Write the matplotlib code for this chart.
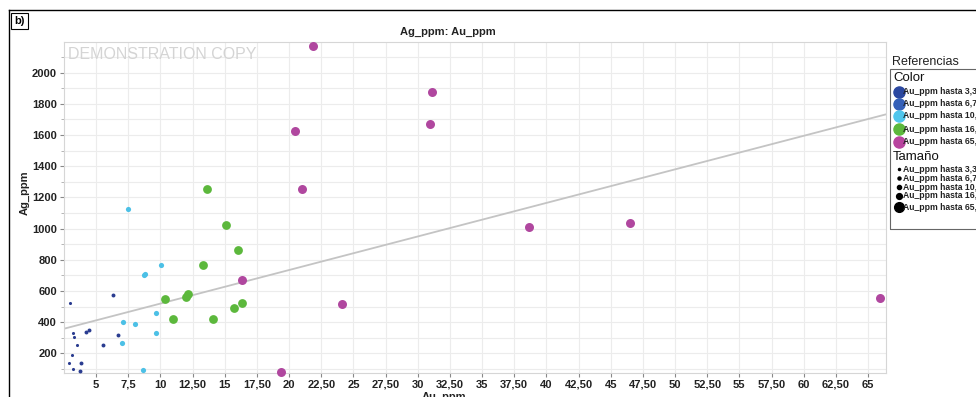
import numpy as np
import matplotlib
matplotlib.use("Agg")
import matplotlib.pyplot as plt
from matplotlib.lines import Line2D
from matplotlib.patches import Rectangle
from matplotlib.ticker import MultipleLocator, FixedLocator

plt.rcParams['font.family'] = ['Liberation Sans', 'DejaVu Sans']

# Au_ppm (x) and Ag_ppm (y) per class
au_c1 = [3.0, 3.21, 3.29, 3.15, 2.87, 3.21, 3.54]
ag_c1 = [525, 332, 306, 189, 140, 101, 255]
au_c2 = [6.32, 4.22, 4.48, 5.56, 6.68, 3.85, 3.72]
ag_c2 = [574, 335, 349, 253, 319, 140, 85]
au_c3 = [7.09, 8.05, 6.99, 9.68, 9.63, 8.62, 7.45, 10.02, 8.72, 8.83]
ag_c3 = [403, 386, 268, 457, 328, 93, 1124, 766, 702, 709]
au_c4 = [13.59, 15.07, 16.0, 13.31, 10.33, 12.01, 12.11, 10.95, 14.11, 15.74, 16.31]
ag_c4 = [1254, 1025, 861, 765, 546, 561, 582, 422, 422, 491, 523]
au_c5 = [16.34, 21.83, 31.1, 30.95, 20.48, 20.97, 24.11, 38.66, 46.49, 65.96, 19.39]
ag_c5 = [670, 2169, 1878, 1673, 1628, 1252, 516, 1008, 1034, 553, 82]

# trend line ends as drawn
trend_au = [2.5, 66.4]
trend_ag = [358, 1733]

x_ticks = [5 + 2.5 * i for i in range(25)]
x_labels = []
for t in x_ticks:
    if t == int(t):
        x_labels.append(str(int(t)))
    elif t == 7.5:
        x_labels.append("7,5")
    else:
        x_labels.append(("%.2f" % t).replace(".", ","))

legend_labels = ["Au_ppm hasta 3,31", "Au_ppm hasta 6,74", "Au_ppm hasta 10,08",
                 "Au_ppm hasta 16,33", "Au_ppm hasta 65,88"]
legend_colors = ["#2b48a0", "#3560b8", "#4fc6ec", "#5cb83c", "#b8449f"]

W, H = 976, 397
fig = plt.figure(figsize=(W / 100, H / 100), dpi=100)
ax = fig.add_axes([64 / W, 1 - 373 / H, (886 - 64) / W, (373 - 42) / H])

ax.scatter(au_c1, ag_c1, s=5, color="#2a3c90", zorder=3, linewidths=0)
ax.scatter(au_c2, ag_c2, s=8, color="#2a3c90", zorder=3, linewidths=0)
ax.scatter(au_c3, ag_c3, s=14, color="#4cc0e6", zorder=3, linewidths=0)
ax.scatter(au_c4, ag_c4, s=40, color="#5cb83c", zorder=3, linewidths=0)
ax.scatter(au_c5, ag_c5, s=42, color="#b0479f", zorder=3, linewidths=0, clip_on=False)
ax.plot(trend_au, trend_ag, color="#c4c4c4", lw=1.3, zorder=2)

ax.set_xlim(2.5, 66.4)
ax.set_ylim(74, 2197)
ax.xaxis.set_major_locator(FixedLocator(x_ticks))
ax.set_xticklabels(x_labels)
ax.yaxis.set_major_locator(MultipleLocator(200))
ax.yaxis.set_minor_locator(MultipleLocator(100))
ax.grid(True, which="both", color="#ececec", lw=0.8, zorder=0)
ax.set_axisbelow(True)
for sp in ax.spines.values():
    sp.set_color("#d6d6d6")
ax.tick_params(axis="both", which="major", labelsize=8, length=3, color="#888888", pad=2)
ax.tick_params(axis="y", which="minor", length=2, color="#aaaaaa")
for lab in ax.get_xticklabels() + ax.get_yticklabels():
    lab.set_fontweight("bold")
    lab.set_color("#222222")

ax.text(0.005, 0.985, "DEMONSTRATION COPY", transform=ax.transAxes, ha="left", va="top",
        fontsize=11.5, color="#d4d4d4")

fig.text(448 / W, 1 - 32 / H, "Ag_ppm: Au_ppm", ha="center", va="center",
         fontsize=8, fontweight="bold", color="#222222")
fig.text(444 / W, 1 - 397 / H, "Au_ppm", ha="center", va="center",
         fontsize=8, fontweight="bold", color="#222222")
fig.text(25 / W, 1 - 193 / H, "Ag_ppm", ha="center", va="center", rotation=90,
         fontsize=8, fontweight="bold", color="#222222")

# outer frame and panel tag
fig.add_artist(Line2D([9 / W, 9 / W], [0, 1 - 10 / H], transform=fig.transFigure, color="black", lw=1))
fig.add_artist(Line2D([9 / W, 1], [1 - 10 / H, 1 - 10 / H], transform=fig.transFigure, color="black", lw=1))
fig.add_artist(Rectangle((11 / W, 1 - 29 / H), 17 / W, 16 / H, transform=fig.transFigure,
                         fill=False, edgecolor="black", lw=0.8))
fig.text(19.5 / W, 1 - 21 / H, "b)", ha="center", va="center", fontsize=8, fontweight="bold")

# legend panel
fig.text(892 / W, 1 - 62 / H, "Referencias", ha="left", va="center", fontsize=9, color="#222222")
fig.add_artist(Rectangle((890 / W, 1 - 229 / H), 100 / W, 160 / H, transform=fig.transFigure,
                         fill=False, edgecolor="#666666", lw=0.8))
fig.text(893 / W, 1 - 78 / H, "Color", ha="left", va="center", fontsize=9.5, color="#111111")
color_rows = [92, 104, 116, 129, 142]
for yy, lab, col in zip(color_rows, legend_labels, legend_colors):
    fig.add_artist(Line2D([899 / W], [1 - yy / H], marker="o", markersize=8, color=col,
                          transform=fig.transFigure, linestyle="none"))
    fig.text(903 / W, 1 - yy / H, lab, ha="left", va="center", fontsize=6.2, fontweight="bold", color="#222222")
fig.text(893 / W, 1 - 157 / H, "Tamaño", ha="left", va="center", fontsize=9.5, color="#111111")
size_rows = [169, 178, 187, 196, 207]
size_ms = [1.5, 2.2, 3.0, 4.2, 7]
for yy, lab, ms in zip(size_rows, legend_labels, size_ms):
    fig.add_artist(Line2D([899 / W], [1 - yy / H], marker="o", markersize=ms, color="black",
                          transform=fig.transFigure, linestyle="none"))
    fig.text(903 / W, 1 - yy / H, lab, ha="left", va="center", fontsize=6.2, fontweight="bold", color="#222222")

fig.savefig("out.png", dpi=100, facecolor="white")
